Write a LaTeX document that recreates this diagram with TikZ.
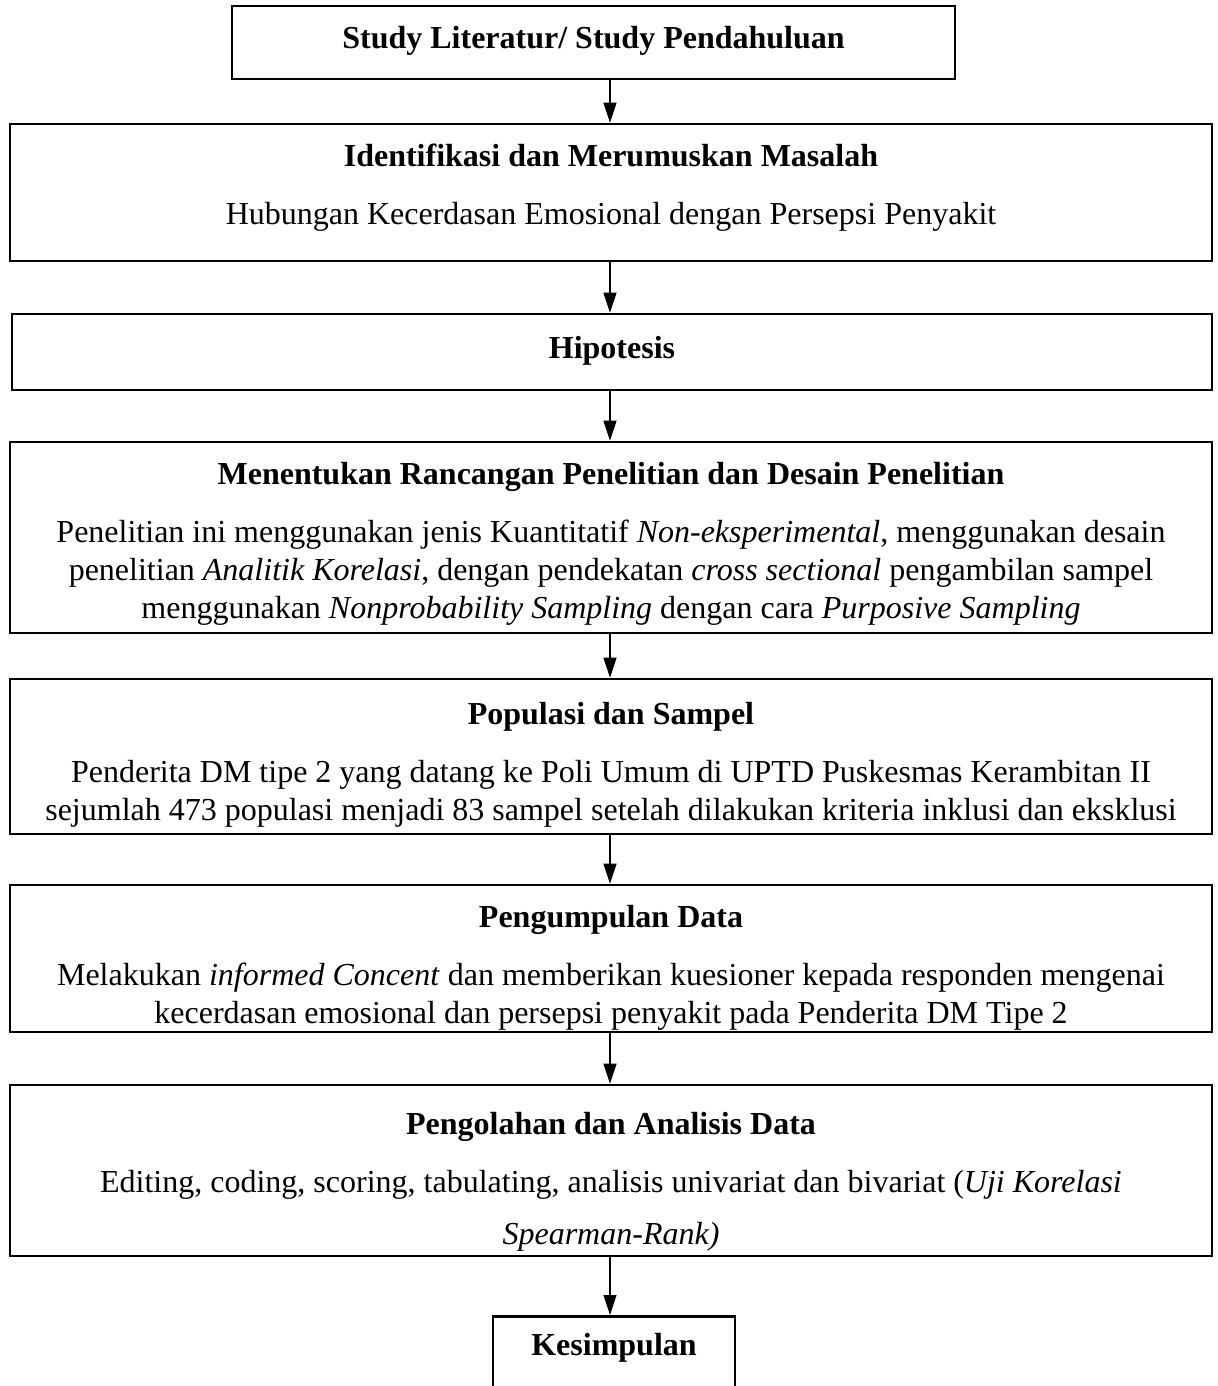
\documentclass[tikz,border=0pt]{standalone}
\usepackage{fontspec}
\setmainfont{Liberation Serif}
\usetikzlibrary{arrows.meta}
\begin{document}
\begin{tikzpicture}[x=0.5pt,y=-0.5pt,
  box/.style={draw, line width=1.3pt, align=center, inner sep=0pt,
    font=\fontsize{16}{19}\selectfont},
  lbl/.style={inner sep=0pt, font=\fontsize{16}{19}\selectfont\bfseries},
  arr/.style={line width=0.55pt, -{Triangle[length=10pt,width=6.5pt]}}]
\useasboundingbox (0,0) rectangle (1217,1386);
\coordinate (ax) at (610,0);

\node[box, minimum width=361.5pt, minimum height=36.5pt, text height=6.5pt, text depth=0pt] (b1) at (593.5,42.5)
  {\textbf{Study Literatur/ Study Pendahuluan}};

\node[box, minimum width=601pt, minimum height=68.5pt, text height=31.5pt, text depth=0pt] (b2) at (611,192.5)
  {\textbf{Identifikasi dan Merumuskan Masalah}\\[10pt]
   Hubungan Kecerdasan Emosional dengan Persepsi Penyakit};

\node[box, minimum width=600pt, minimum height=38pt, text height=6pt, text depth=0pt] (b3) at (612,352)
  {\textbf{Hipotesis}};

\node[box, minimum width=601pt, minimum height=95.5pt, text height=80.5pt, text depth=0pt] (b4) at (611,537.5)
  {\textbf{Menentukan Rancangan Penelitian dan Desain Penelitian}\\[10pt]
   Penelitian ini menggunakan jenis Kuantitatif \textit{Non-eksperimental}, menggunakan desain\\
   penelitian \textit{Analitik Korelasi}, dengan pendekatan \textit{cross sectional} pengambilan sampel\\
   menggunakan \textit{Nonprobability Sampling} dengan cara \textit{Purposive Sampling}};

\node[box, minimum width=601pt, minimum height=77.5pt, text height=63.5pt, text depth=0pt] (b5) at (611,756.5)
  {\textbf{Populasi dan Sampel}\\[10pt]
   Penderita DM tipe 2 yang datang ke Poli Umum di UPTD Puskesmas Kerambitan II\\
   sejumlah 473 populasi menjadi 83 sampel setelah dilakukan kriteria inklusi dan eksklusi};

\node[box, minimum width=601pt, minimum height=73.5pt, text height=64.5pt, text depth=0pt] (b6) at (611,958.5)
  {\textbf{Pengumpulan Data}\\[10pt]
   Melakukan \textit{informed Concent} dan memberikan kuesioner kepada responden mengenai\\
   kecerdasan emosional dan persepsi penyakit pada Penderita DM Tipe 2};

\node[box, minimum width=601pt, minimum height=85.5pt, text height=73.5pt, text depth=0pt] (b7) at (611,1170.5)
  {\textbf{Pengolahan dan Analisis Data}\\[10pt]
   Editing, coding, scoring, tabulating, analisis univariat dan bivariat (\textit{Uji Korelasi}\\[7pt]
   \textit{Spearman-Rank)}};

\node[box, minimum width=121pt, minimum height=120pt, anchor=north] (b8) at (614,1315) {};
\node[lbl] (kt) at (614,1348) {Kesimpulan};

\draw[arr] (b1.south -| ax) -- (b2.north -| ax);
\draw[arr] (b2.south -| ax) -- (b3.north -| ax);
\draw[arr] (b3.south -| ax) -- (b4.north -| ax);
\draw[arr] (b4.south -| ax) -- (b5.north -| ax);
\draw[arr] (b5.south -| ax) -- (b6.north -| ax);
\draw[arr] (b6.south -| ax) -- (b7.north -| ax);
\draw[arr] (b7.south -| ax) -- (b8.north -| ax);
\end{tikzpicture}
\end{document}
